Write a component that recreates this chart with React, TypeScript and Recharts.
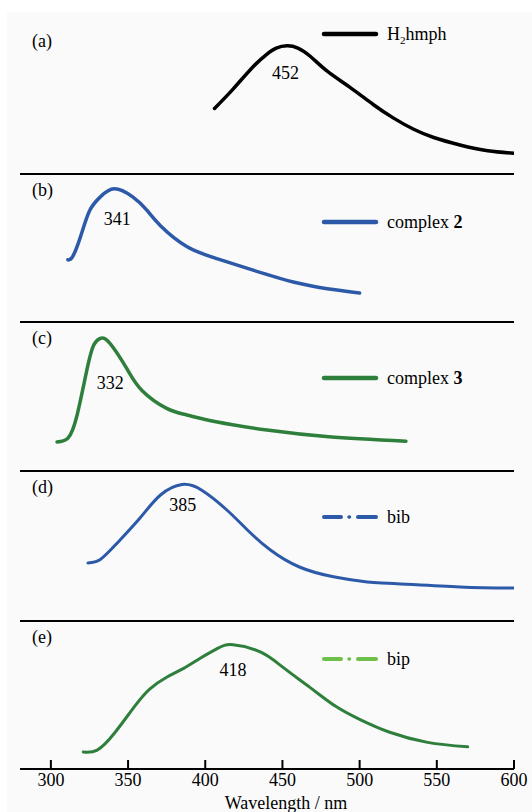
import React from 'react'
import { LineChart, Line, XAxis, YAxis, ReferenceDot } from 'recharts'

// stacked emission spectra, five panels sharing one wavelength axis

const xTicks = [300, 350, 400, 450, 500, 550, 600]

const hmphNm = [406, 418, 431, 440, 446, 453, 460, 468, 479, 494, 509, 522, 535, 548, 565, 583, 600]
const hmphInt = [44, 57, 72, 80.5, 84.5, 86, 84.5, 79, 69, 58, 46.5, 37.5, 30, 24.5, 19.5, 15.6, 14]

const cx2Nm = [311, 314, 319, 325, 332, 341, 353, 362, 371, 388, 408, 431, 457, 479, 500]
const cx2Int = [42, 44, 57, 75, 84.5, 90, 84.5, 75.7, 65, 51, 42.6, 35, 27, 22.5, 19.6]

const cx3Nm = [304, 311, 317, 324, 328, 332, 338, 349, 359, 375, 388, 407, 440, 480, 530]
const cx3Int = [19.5, 22, 37.6, 71, 85, 89, 86, 69, 54, 42, 37.6, 33, 27.5, 23, 20]

const bibNm = [324, 332, 343, 358, 371, 385, 398, 414, 427, 442, 461, 483, 505, 522, 565, 600]
const bibInt = [38.7, 41, 52, 69, 84, 91, 87, 74, 61, 47.5, 36, 29.5, 26, 25, 22.7, 22]

const bipNm = [321, 330, 341, 354, 364, 375, 386, 397, 408, 418, 436, 450, 468, 485, 501, 519, 544, 570]
const bipInt = [11.5, 12.8, 24, 42, 54, 62, 68, 75, 81.5, 84, 79, 69, 55, 42, 33, 25, 18, 15]

const FONT = '"Liberation Serif", "Times New Roman", serif'
const BLUE = '#2d5aa8'
const GREEN = '#2f7f3c'
const LIGHT_GREEN = '#6cbf48'

const zip = (xs: number[], ys: number[]) => xs.map((x, i) => ({ nm: x, v: ys[i] }))

type Panel = {
  letter: string
  top: number
  plotH: number
  data: { nm: number; v: number }[]
  color: string
  width: number
  peak: string
  peakAt: [number, number]
  legendY: number
  legend: React.ReactNode
  legendColor: string
  dashDot?: boolean
}

const panels: Panel[] = [
  {
    letter: '(a)', top: 25, plotH: 149, data: zip(hmphNm, hmphInt), color: '#000', width: 3.5,
    peak: '452', peakAt: [452, 67.8], legendY: 34, legendColor: '#000',
    legend: <span>H<sub style={{ fontSize: 11, verticalAlign: -4 }}>2</sub>hmph</span>,
  },
  {
    letter: '(b)', top: 174, plotH: 148, data: zip(cx2Nm, cx2Int), color: BLUE, width: 3.5,
    peak: '341', peakAt: [343, 69.6], legendY: 221.5, legendColor: BLUE,
    legend: <span>complex <b>2</b></span>,
  },
  {
    letter: '(c)', top: 322, plotH: 149, data: zip(cx3Nm, cx3Int), color: GREEN, width: 3.5,
    peak: '332', peakAt: [338.5, 59], legendY: 378, legendColor: GREEN,
    legend: <span>complex <b>3</b></span>,
  },
  {
    letter: '(d)', top: 471, plotH: 150, data: zip(bibNm, bibInt), color: BLUE, width: 3,
    peak: '385', peakAt: [385.5, 77.3], legendY: 517, legendColor: BLUE, dashDot: true,
    legend: <span>bib</span>,
  },
  {
    letter: '(e)', top: 621, plotH: 148, data: zip(bipNm, bipInt), color: GREEN, width: 3,
    peak: '418', peakAt: [418, 66.9], legendY: 658.5, legendColor: LIGHT_GREEN, dashDot: true,
    legend: <span>bip</span>,
  },
]

const BottomTick = (props: any) => {
  const { x, y, payload } = props
  return (
    <g>
      <line x1={x} x2={x} y1={y - 9} y2={y} stroke="#000" strokeWidth={2} />
      <text x={x} y={y + 11} textAnchor="middle" dominantBaseline="central" fontSize={18} fontFamily={FONT} fill="#000">
        {payload.value}
      </text>
    </g>
  )
}

function Key({ y, color, dashDot, children }: { y: number; color: string; dashDot?: boolean; children: React.ReactNode }) {
  return (
    <>
      <svg style={{ position: 'absolute', left: 321, top: y - 4, overflow: 'visible' }} width={58} height={8}>
        {dashDot ? (
          <g stroke={color} strokeWidth={4} strokeLinecap="round">
            <line x1={3} x2={20} y1={4} y2={4} />
            <line x1={28} x2={28.5} y1={4} y2={4} strokeWidth={3.5} />
            <line x1={37} x2={55} y1={4} y2={4} />
          </g>
        ) : (
          <line x1={3} x2={55} y1={4} y2={4} stroke={color} strokeWidth={4.5} strokeLinecap="round" />
        )}
      </svg>
      <div style={{ position: 'absolute', left: 387, top: y - 11, lineHeight: '22px', fontSize: 18, fontFamily: FONT, color: '#000', whiteSpace: 'nowrap' }}>
        {children}
      </div>
    </>
  )
}

export default function App() {
  return (
    <div style={{ position: 'absolute', left: 0, top: 0, width: 532, height: 812, fontFamily: FONT }}>
      <div style={{ position: 'absolute', left: 7, top: 12, width: 525, height: 800, background: '#fafafa' }} />
      {panels.map((p, i) => {
        const last = i === panels.length - 1
        const axisH = last ? 43 : 2
        const h = 2 + p.plotH + axisH
        return (
          <div key={p.letter} style={{ position: 'absolute', left: 0, top: p.top - 2 }}>
            <LineChart width={532} height={h} data={p.data} margin={{ top: 2, right: 18, bottom: 0, left: 20 }}>
              <XAxis
                dataKey="nm"
                type="number"
                domain={[280, 600]}
                allowDataOverflow
                ticks={last ? xTicks : []}
                tick={last ? <BottomTick /> : false}
                tickLine={false}
                tickSize={0}
                tickMargin={0}
                height={axisH}
                axisLine={{ stroke: '#000', strokeWidth: 2 }}
                label={last ? { value: 'Wavelength / nm', position: 'insideBottom', offset: 3, dx: 19, fontSize: 18, fontFamily: FONT, fill: '#000' } : undefined}
              />
              <YAxis
                type="number"
                domain={[0, 100]}
                allowDataOverflow
                width={0}
                tick={false}
                tickLine={false}
                axisLine={{ stroke: '#000', strokeWidth: 2 }}
              />
              <Line
                type="natural"
                dataKey="v"
                stroke={p.color}
                strokeWidth={p.width}
                strokeLinecap="round"
                dot={false}
                isAnimationActive={false}
              />
              <ReferenceDot
                x={p.peakAt[0]}
                y={p.peakAt[1]}
                r={0}
                stroke="none"
                fill="none"
                label={{ value: p.peak, position: 'center', fontSize: 18, fontFamily: FONT, fill: '#000' }}
              />
            </LineChart>
          </div>
        )
      })}
      {panels.map(p => (
        <div key={'l' + p.letter} style={{ position: 'absolute', left: 32, top: p.top + 5, lineHeight: '22px', fontSize: 18, color: '#000' }}>
          {p.letter}
        </div>
      ))}
      {panels.map(p => (
        <Key key={'k' + p.letter} y={p.legendY} color={p.legendColor} dashDot={p.dashDot}>
          {p.legend}
        </Key>
      ))}
    </div>
  )
}
